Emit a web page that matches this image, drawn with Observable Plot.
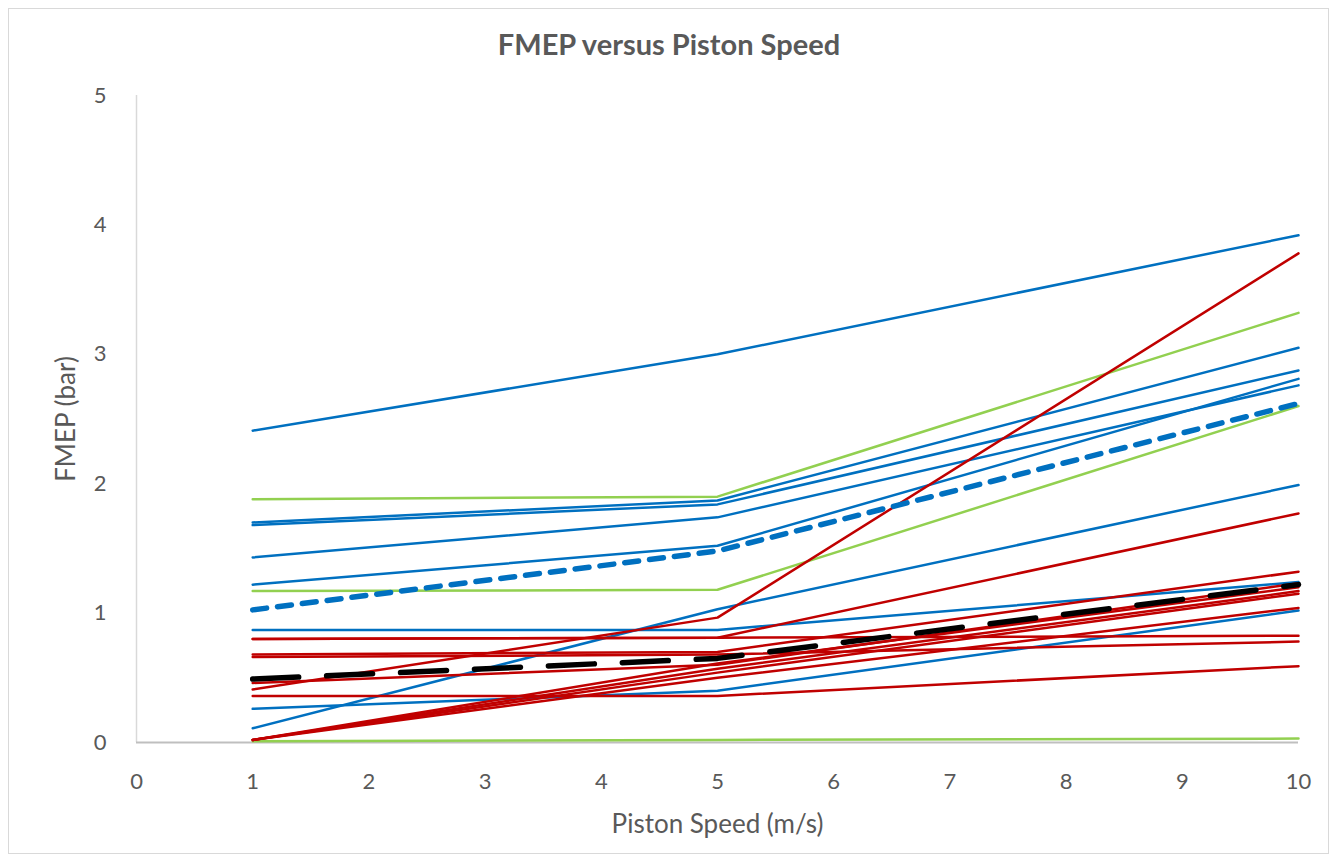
<!DOCTYPE html>
<html>
<head>
<meta charset="utf-8">
<script src="https://cdn.jsdelivr.net/npm/d3@7"></script>
<script src="https://cdn.jsdelivr.net/npm/@observablehq/plot@0.6"></script>
<style>
  html, body { margin: 0; padding: 0; background: #fff; }
  #wrap { position: relative; width: 1338px; height: 861px; overflow: hidden; }
  #frame { position: absolute; left: 8px; top: 8px; width: 1321px; height: 846px; border: 1.5px solid #d9d9d9; box-sizing: border-box; pointer-events: none; }
  #title { position: absolute; left: 0; width: 1338px; top: 26px; text-align: center; font-family: Lato, "Open Sans", sans-serif; font-weight: bold; font-size: 29px; color: #595959; }
  #chart { position: absolute; left: 0; top: 0; }
</style>
</head>
<body>
<div id="wrap">
  <div id="chart"></div>
  <div id="frame"></div>
  <div id="title">FMEP versus Piston Speed</div>
</div>
<script>
const speeds = [1, 5, 10];
const xTicks = [0, 1, 2, 3, 4, 5, 6, 7, 8, 9, 10];
const yTicks = [0, 1, 2, 3, 4, 5];

const blueLines = [
  [2.41, 3.00, 3.92],
  [1.70, 1.87, 3.05],
  [1.68, 1.84, 2.875],
  [1.43, 1.74, 2.76],
  [1.22, 1.52, 2.81],
  [0.87, 0.87, 1.24],
  [0.26, 0.40, 1.02],
  [0.11, 1.03, 1.99]
];
const greenLines = [
  [1.88, 1.90, 3.32],
  [1.17, 1.18, 2.60],
  [0.01, 0.02, 0.03]
];
const redLines = [
  [0.41, 0.965, 3.78],
  [0.80, 0.81, 1.77],
  [0.80, 0.81, 0.825],
  [0.68, 0.70, 1.32],
  [0.66, 0.68, 0.78],
  [0.46, 0.60, 1.23],
  [0.36, 0.36, 0.59],
  [0.02, 0.61, 1.20],
  [0.02, 0.57, 1.17],
  [0.02, 0.54, 1.15],
  [0.02, 0.50, 1.04]
];
const blueDashed = [1.025, 1.48, 2.62];
const blackDashed = [0.49, 0.65, 1.22];

function rows(groups, name) {
  const out = [];
  groups.forEach((vals, i) => vals.forEach((v, j) => out.push({series: name + i, x: speeds[j], y: v})));
  return out;
}
const blueRows = rows(blueLines, "b");
const greenRows = rows(greenLines, "g");
const redRows = rows(redLines, "r");
const blueDashRows = rows([blueDashed], "bd");
const blackDashRows = rows([blackDashed], "kd");

const chart = Plot.plot({
  width: 1338,
  height: 861,
  marginLeft: 136,
  marginRight: 40,
  marginTop: 95,
  marginBottom: 119,
  style: {fontFamily: "Lato, 'Open Sans', sans-serif", fontSize: "22px", color: "#595959", background: "transparent"},
  x: {domain: [0, 10]},
  y: {domain: [0, 5]},
  marks: [
    Plot.axisX({ticks: xTicks, tickFormat: d3.format("d"), tickSize: 0, tickPadding: 31, fontSize: 22, label: null}),
    Plot.axisX({ticks: [], label: "Piston Speed (m/s)", labelArrow: "none", labelAnchor: "center", labelOffset: 90, fontSize: 26, tickSize: 0}),
    Plot.axisY({ticks: yTicks, tickFormat: d3.format("d"), tickSize: 0, tickPadding: 30, fontSize: 22, label: null}),
    Plot.axisY({ticks: [], label: "FMEP (bar)", labelArrow: "none", labelAnchor: "center", labelOffset: 80, fontSize: 26, tickSize: 0}),
    Plot.ruleX([0], {stroke: "#d9d9d9", strokeWidth: 1.5}),
    Plot.ruleY([0], {stroke: "#bfbfbf", strokeWidth: 2}),
    Plot.line(blueRows, {x: "x", y: "y", z: "series", stroke: "#0070C0", strokeWidth: 2.5}),
    Plot.line(greenRows, {x: "x", y: "y", z: "series", stroke: "#92D050", strokeWidth: 2.5}),
    Plot.line(redRows, {x: "x", y: "y", z: "series", stroke: "#C00000", strokeWidth: 2.5}),
    Plot.line(blueDashRows, {x: "x", y: "y", z: "series", stroke: "#0070C0", strokeWidth: 5.5, strokeDasharray: "14,11", strokeLinecap: "round"}),
    Plot.line(blackDashRows, {x: "x", y: "y", z: "series", stroke: "#000000", strokeWidth: 5.5, strokeDasharray: "46,28", strokeLinecap: "round"})
  ]
});
document.getElementById("chart").appendChild(chart);
</script>
</body>
</html>
